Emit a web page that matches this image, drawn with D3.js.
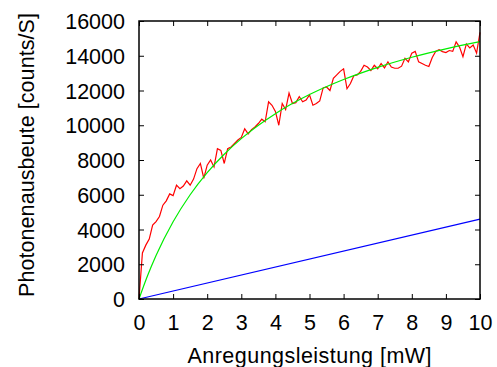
<!DOCTYPE html>
<html><head><meta charset="utf-8">
<script src="https://cdn.jsdelivr.net/npm/d3@7"></script>
<style>body{margin:0;background:#fff}svg{display:block}</style>
</head><body>
<script>
// ---- data ----
const powerStep = 0.1;
const measured = [0,2650,3100,3450,4250,4450,4750,5400,5650,6050,
  5950,6550,6350,6500,6800,6550,6900,7500,7800,6950,
  7700,8000,7600,8650,8550,7800,8650,8750,8950,9150,
  9300,9800,9500,9750,9900,10100,10350,10200,11350,11150,
  10800,10000,11250,10900,11850,11250,11300,11650,11350,11450,
  11750,11150,11250,11400,12150,12200,12000,12700,12900,13100,
  13250,12100,12400,12850,12900,13100,13450,13350,13150,13450,
  13250,13550,13300,13650,13350,13280,13280,13400,13850,13650,
  14150,14250,13650,13550,13450,13380,13900,14250,14350,14240,
  14180,14300,14250,14800,14500,13950,14680,14450,14620,14150,15350];
const fitX = [0,0.25,0.5,1,1.5,2,2.5,3,4,5,6,7,8,9,10];
const fitY = [0,1333,2500,4444,6000,7273,8333,9231,10667,11765,12632,13333,13913,14400,14815];
const linX = [0,10];
const linY = [0,4600];
const xTickValues = [0,1,2,3,4,5,6,7,8,9,10];
const yTickValues = [0,2000,4000,6000,8000,10000,12000,14000,16000];
const xTitle = "Anregungsleistung [mW]";
const yTitle = "Photonenausbeute [counts/S]";

const W = 497, H = 367;
const L = 139, R = 480, T = 21, B = 299;
const svg = d3.select("body").append("svg").attr("width", W).attr("height", H);
svg.append("rect").attr("width", W).attr("height", H).attr("fill", "#fff");

const x = d3.scaleLinear().domain([0,10]).range([L,R]);
const y = d3.scaleLinear().domain([0,16000]).range([B,T]);
const font = "'Liberation Sans', Arial, Helvetica, sans-serif";
const fs = 21.5;

// curves
const redPts = measured.map((v,i)=>[i*powerStep, v]);
const line = d3.line().x(d=>x(d[0])).y(d=>y(d[1]));
const g = svg.append("g");
g.append("path").attr("d", line(redPts)).attr("fill","none").attr("stroke","#ff0000").attr("stroke-width",1.2);
g.append("path").attr("d", d3.line().curve(d3.curveMonotoneX).x(d=>x(d[0])).y(d=>y(d[1]))(fitX.map((v,i)=>[v,fitY[i]])))
  .attr("fill","none").attr("stroke","#00ee00").attr("stroke-width",1.2);
g.append("path").attr("d", line(linX.map((v,i)=>[v,linY[i]])))
  .attr("fill","none").attr("stroke","#0000ff").attr("stroke-width",1.2);

// axes (ticks inward on all sides)
const tk = 5;
function styleAxis(sel){
  sel.select(".domain").remove();
  sel.selectAll(".tick line").attr("stroke","#000").attr("stroke-width",1);
  sel.selectAll("text").attr("font-family",font).attr("font-size",fs).attr("fill","#000");
}
const xb = svg.append("g").attr("transform",`translate(0,${B})`)
  .call(d3.axisBottom(x).tickValues(xTickValues).tickSize(-tk).tickFormat(d3.format("d")));
styleAxis(xb);
xb.selectAll("text").attr("dy",null).attr("y",30.5);
const xt = svg.append("g").attr("transform",`translate(0,${T})`)
  .call(d3.axisTop(x).tickValues(xTickValues).tickSize(-tk).tickFormat(""));
styleAxis(xt);
const yl = svg.append("g").attr("transform",`translate(${L},0)`)
  .call(d3.axisLeft(y).tickValues(yTickValues).tickSize(-tk).tickFormat(d3.format("d")));
styleAxis(yl);
yl.selectAll("text").attr("x",-14).attr("dy","0.35em");
const yr = svg.append("g").attr("transform",`translate(${R},0)`)
  .call(d3.axisRight(y).tickValues(yTickValues).tickSize(-tk).tickFormat(""));
styleAxis(yr);

// frame
svg.append("rect").attr("x",L).attr("y",T).attr("width",R-L).attr("height",B-T)
  .attr("fill","none").attr("stroke","#000").attr("stroke-width",1.5);

// titles
svg.append("text").attr("x",(L+R)/2).attr("y",363).attr("text-anchor","middle")
  .attr("font-family",font).attr("font-size",fs).attr("textLength",244).text(xTitle);
svg.append("text").attr("transform","translate(33.5,155) rotate(-90)").attr("text-anchor","middle")
  .attr("font-family",font).attr("font-size",fs).attr("textLength",284).text(yTitle);
</script>
</body></html>
